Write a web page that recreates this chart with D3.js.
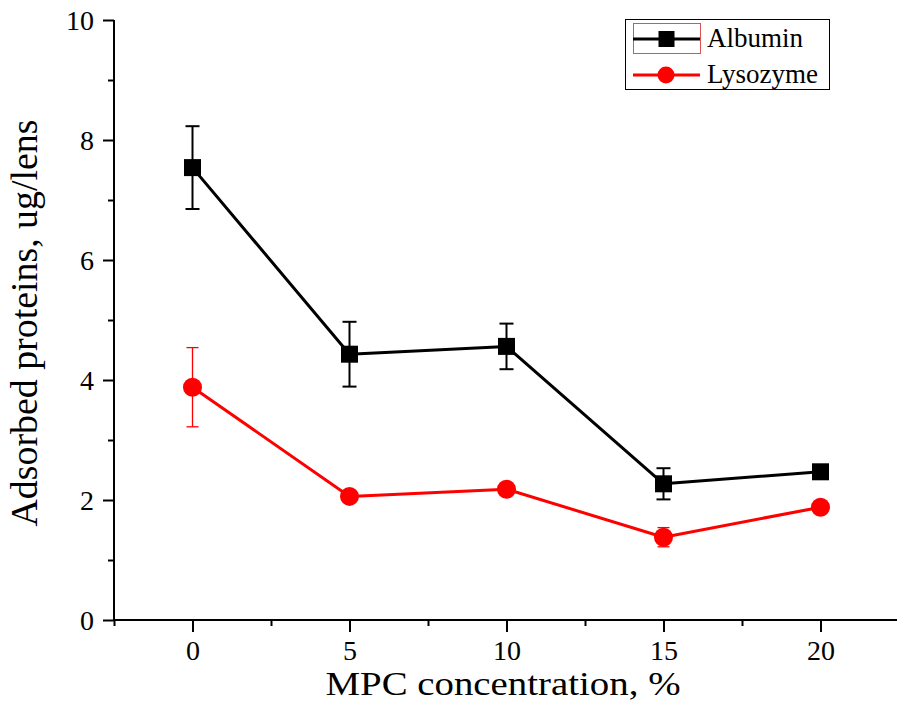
<!DOCTYPE html>
<html>
<head>
<meta charset="utf-8">
<script src="https://cdn.jsdelivr.net/npm/d3@7"></script>
<style>
  html, body { margin: 0; padding: 0; background: #fff; }
  svg { display: block; }
  svg text { font-family: 'Liberation Serif', 'Times New Roman', serif !important; }
</style>
</head>
<body>
<svg id="chart" width="897" height="717"></svg>
<script>
const concentrations = [0, 5, 10, 15, 20];
const albumin = [7.54, 4.43, 4.56, 2.27, 2.47];
const albuminErr = [0.69, 0.54, 0.38, 0.26, 0];
const lysozyme = [3.88, 2.06, 2.18, 1.38, 1.88];
const lysozymeErr = [0.66, 0, 0, 0.16, 0];
const xTicks = [0, 5, 10, 15, 20];
const xMinorTicks = [-2.5, 2.5, 7.5, 12.5, 17.5, 22.5];
const yTicks = [0, 2, 4, 6, 8, 10];
const yMinorTicks = [1, 3, 5, 7, 9];
const seriesNames = ["Albumin", "Lysozyme"];

const FONT = "'Liberation Serif', 'Times New Roman', serif";
const svg = d3.select("#chart");
const x = d3.scaleLinear().domain([-2.5, 22.5]).range([114, 899]);
const y = d3.scaleLinear().domain([0, 10]).range([620, 20]);

// Axes
const xAxis = svg.append("g").attr("transform", "translate(0,620)")
  .call(d3.axisBottom(x).tickValues(xTicks).tickSize(12).tickPadding(8).tickFormat(d3.format("d")));
const xMinor = svg.append("g").attr("transform", "translate(0,620)")
  .call(d3.axisBottom(x).tickValues(xMinorTicks).tickSize(6).tickFormat(""));
const yAxis = svg.append("g").attr("transform", "translate(114,0)")
  .call(d3.axisLeft(y).tickValues(yTicks).tickSize(11).tickPadding(9).tickFormat(d3.format("d")));
const yMinor = svg.append("g").attr("transform", "translate(114,0)")
  .call(d3.axisLeft(y).tickValues(yMinorTicks).tickSize(6).tickFormat(""));

[xAxis, xMinor, yAxis, yMinor].forEach(g => {
  g.attr("font-family", FONT).attr("font-size", 28);
  g.select(".domain").attr("stroke", "#000").attr("stroke-width", 2);
  g.selectAll(".tick line").attr("stroke", "#000").attr("stroke-width", 2);
  g.selectAll(".tick text").attr("fill", "#000").style("font-size", "28px").style("font-family", FONT);
});
xMinor.select(".domain").remove();
yMinor.select(".domain").remove();
xAxis.select(".domain").attr("d", `M${x(-2.5)},0H${x(22.5)}`);
yAxis.select(".domain").attr("d", `M0,${y(0)}V${y(10)}`);
yAxis.selectAll(".tick text").attr("dy", "0.34em");

// Axis titles
svg.append("text")
  .attr("x", 503).attr("y", 695)
  .attr("text-anchor", "middle")
  .style("font-family", FONT).style("font-size", "34px")
  .attr("textLength", 355).attr("lengthAdjust", "spacingAndGlyphs")
  .text("MPC concentration, %");

svg.append("text")
  .attr("transform", "translate(37,323) rotate(-90)")
  .attr("text-anchor", "middle")
  .style("font-family", FONT).style("font-size", "38px")
  .attr("textLength", 407).attr("lengthAdjust", "spacingAndGlyphs")
  .text("Adsorbed proteins, ug/lens");

const line = d3.line().x((d, i) => x(concentrations[i])).y(d => y(d));

function drawSeries(values, errs, color, lw, errW, capW, shape) {
  const g = svg.append("g");
  g.append("path").datum(values)
    .attr("d", line).attr("fill", "none")
    .attr("stroke", color).attr("stroke-width", lw).attr("stroke-linejoin", "round");
  const eg = g.append("g");
  values.forEach((v, i) => {
    const e = errs[i];
    if (!e) return;
    const cx = x(concentrations[i]);
    eg.append("line").attr("x1", cx).attr("x2", cx).attr("y1", y(v + e)).attr("y2", y(v - e))
      .attr("stroke", color).attr("stroke-width", errW);
    [v + e, v - e].forEach(b => {
      eg.append("line").attr("x1", cx - capW / 2).attr("x2", cx + capW / 2)
        .attr("y1", y(b)).attr("y2", y(b)).attr("stroke", color).attr("stroke-width", errW);
    });
  });
  values.forEach((v, i) => {
    const cx = x(concentrations[i]), cy = y(v);
    if (shape === "square") {
      g.append("rect").attr("x", cx - 8.5).attr("y", cy - 8.5).attr("width", 17).attr("height", 17).attr("fill", color);
    } else {
      g.append("circle").attr("cx", cx).attr("cy", cy).attr("r", 9.5).attr("fill", color);
    }
  });
}

drawSeries(albumin, albuminErr, "#000", 3, 2, 14, "square");
drawSeries(lysozyme, lysozymeErr, "#ff0000", 3, 1.3, 12, "circle");

// Legend
const lg = svg.append("g");
lg.append("rect").attr("x", 625.5).attr("y", 19.5).attr("width", 204).attr("height", 70)
  .attr("fill", "#fff").attr("stroke", "#000").attr("stroke-width", 1);
lg.append("rect").attr("x", 633.5).attr("y", 23.5).attr("width", 67).attr("height", 30)
  .attr("fill", "none").attr("stroke", "#e05050").attr("stroke-width", 1);
const legendRows = [
  { name: seriesNames[0], color: "#000", shape: "square", cy: 39, base: 47 },
  { name: seriesNames[1], color: "#ff0000", shape: "circle", cy: 75, base: 83 }
];
legendRows.forEach(r => {
  lg.append("line").attr("x1", 633).attr("x2", 700).attr("y1", r.cy).attr("y2", r.cy)
    .attr("stroke", r.color).attr("stroke-width", 3);
  if (r.shape === "square") {
    lg.append("rect").attr("x", 658.5).attr("y", r.cy - 8).attr("width", 16).attr("height", 16).attr("fill", r.color);
  } else {
    lg.append("circle").attr("cx", 666).attr("cy", r.cy).attr("r", 8.5).attr("fill", r.color);
  }
  lg.append("text").attr("x", 707).attr("y", r.base)
    .style("font-family", FONT).style("font-size", "27px").attr("fill", "#000").text(r.name);
});
</script>
</body>
</html>
